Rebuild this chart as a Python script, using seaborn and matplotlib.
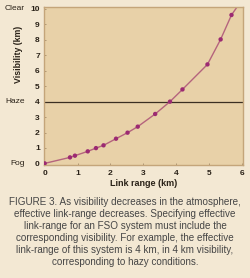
import matplotlib
matplotlib.use("Agg")
import matplotlib.pyplot as plt
import seaborn as sns
import pandas as pd

# Data
link_range = [0.0, 0.77, 0.92, 1.31, 1.56, 1.79, 2.17, 2.52, 2.83, 3.36, 3.81, 4.19, 4.95, 5.35, 5.68]
visibility = [0.0, 0.39, 0.50, 0.78, 0.99, 1.17, 1.60, 1.99, 2.38, 3.20, 4.00, 4.79, 6.41, 8.03, 9.61]
# the curve continues past the last marker to the top of the plot
curve_x = link_range + [5.84]
curve_y = visibility + [10.1]
haze_level = 3.95
y_ticks = list(range(0, 11))
x_ticks = list(range(0, 7))
condition_labels = {"Clear": 10, "Haze": 4, "Fog": 0}
caption_lines = [
    "FIGURE 3. As visibility decreases in the atmosphere,",
    "effective link-range decreases. Specifying effective",
    "link-range for an FSO system must include the",
    "corresponding visibility. For example, the effective",
    "link-range of this system is 4 km, in 4 km visibility,",
    "corresponding to hazy conditions.",
]

sns.set_style("ticks")
plt.rcParams['font.family'] = ['Liberation Sans', 'DejaVu Sans']

fig = plt.figure(figsize=(2.5, 2.78), dpi=100)
fig.patch.set_facecolor("#f3e8d3")
ax = fig.add_axes([0.176, 0.405, 0.796, 0.57])
ax.set_facecolor("#e8d1a8")

pts = pd.DataFrame({"x": link_range, "y": visibility})
crv = pd.DataFrame({"x": curve_x, "y": curve_y})

ax.axhline(haze_level, color="#3b2f22", lw=0.9, zorder=1)
sns.lineplot(data=crv, x="x", y="y", ax=ax, color="#b5647d", lw=1.0, sort=False, zorder=2)
sns.scatterplot(data=pts, x="x", y="y", ax=ax, color="#9c2a72", s=10, edgecolor="none", zorder=3)

ax.set_xlim(-0.02, 6.03)
ax.set_ylim(-0.13, 10.13)
ax.set_xticks(x_ticks)
ax.set_yticks(y_ticks)
ax.tick_params(direction="in", length=1.5, width=0.5, colors="#9a8060",
               labelsize=6, labelcolor="#2a2218", pad=3)
for lbl in ax.get_xticklabels() + ax.get_yticklabels():
    lbl.set_fontweight("bold")
ax.set_xlabel("Link range (km)", fontsize=6.5, fontweight="bold", color="#2a2218", labelpad=2)
ax.set_ylabel("Visibility (km)", fontsize=6.3, fontweight="bold", color="#2a2218")
ax.yaxis.set_label_coords(-0.105, 0.70)

for s in ax.spines.values():
    s.set_color("#c4a57a")
    s.set_linewidth(1.0)

trans = ax.get_yaxis_transform()
for name, yv in condition_labels.items():
    ax.text(-0.095, yv, name, transform=trans, ha="right", va="center",
            fontsize=6, color="#2a2218")

caption_y = 0.273
for i, line in enumerate(caption_lines):
    fig.text(0.5, caption_y - i * 0.0432, line, ha="center", va="center",
             fontsize=7.1, color="#454545")

fig.savefig("out.png", dpi=100, facecolor=fig.get_facecolor())
